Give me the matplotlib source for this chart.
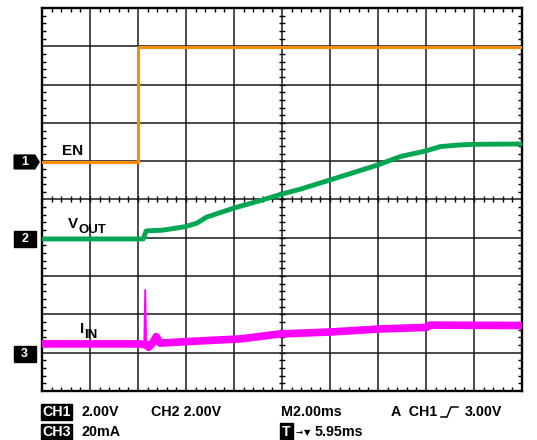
import numpy as np
import matplotlib
matplotlib.use("Agg")
import matplotlib.pyplot as plt
from matplotlib.patches import Polygon
from matplotlib.lines import Line2D

plt.rcParams['font.family'] = ['Liberation Sans', 'DejaVu Sans']
plt.rcParams['font.weight'] = 'bold'

# traces, in screen divisions (10 x 10)
en_x = [0, 2.0, 2.0, 10]
en_y = [5.98, 5.98, 8.98, 8.98]

vout_x = [0, 2.11, 2.17, 2.52, 2.98, 3.22, 3.43, 3.98, 4.60, 4.99, 5.38, 6.0, 6.99, 7.46, 8.0, 8.29, 8.64, 8.98, 10]
vout_y = [3.97, 3.97, 4.18, 4.20, 4.29, 4.38, 4.54, 4.77, 4.99, 5.14, 5.27, 5.51, 5.90, 6.12, 6.27, 6.38, 6.42, 6.44, 6.45]

iin_x = [0, 2.04, 2.12, 2.18, 2.22, 2.30, 2.38, 2.46, 3.01, 4.13, 4.96, 6.0, 7.04, 8.01, 8.08, 10]
iin_y = [1.23, 1.23, 1.21, 1.21, 1.14, 1.25, 1.42, 1.25, 1.29, 1.36, 1.49, 1.54, 1.62, 1.66, 1.72, 1.71]
spike_x = [2.13, 2.15, 2.17]
spike_y = [1.25, 2.64, 1.25]

# channel ground markers (division level)
markers = {'1': 5.98, '2': 3.97, '3': 0.97}

orange = '#FF8C00'
green = '#00A651'
magenta = '#FF00FF'

fig = plt.figure(figsize=(5.37, 4.40), dpi=100)
ax = fig.add_axes([42/537, 49/440, 480/537, 383/440])
ax.set_xlim(0, 10)
ax.set_ylim(0, 10)

ax.set_xticks(np.arange(0, 11, 1))
ax.set_yticks(np.arange(0, 11, 1))
ax.set_xticks(np.arange(0, 10.01, 0.2), minor=True)
ax.set_yticks(np.arange(0, 10.01, 0.2), minor=True)
ax.tick_params(which='major', length=0, labelbottom=False, labelleft=False)
ax.tick_params(which='minor', direction='in', length=3, width=1, color='k',
               top=True, right=True)
ax.grid(which='major', color='#1a1a1a', lw=1.1)
for s in ax.spines.values():
    s.set_linewidth(1.7)

# center cross ticks
cx = np.arange(0, 10.01, 0.2)
ax.plot(cx, np.full_like(cx, 5), ls='none', marker='|', ms=4, mew=1, color='k', zorder=2)
ax.plot(np.full_like(cx, 5), cx, ls='none', marker='_', ms=4, mew=1, color='k', zorder=2)

ax.plot(en_x, en_y, color=orange, lw=2.2, zorder=3)
ax.plot(vout_x, vout_y, color=green, lw=3.5, zorder=3)
ax.plot(iin_x, iin_y, color=magenta, lw=5.5, zorder=3)
ax.plot(spike_x, spike_y, color=magenta, lw=1.3, zorder=3)

# trace labels
ax.text(0.42, 6.16, 'EN', fontsize=11, fontweight='bold', va='baseline')
ax.text(0.54, 4.26, 'V', fontsize=11, fontweight='bold', va='baseline')
ax.text(0.76, 4.12, 'OUT', fontsize=9.5, fontweight='bold', va='baseline')
ax.text(0.80, 1.51, 'I', fontsize=11, fontweight='bold', va='baseline')
ax.text(0.88, 1.38, 'IN', fontsize=9.5, fontweight='bold', va='baseline')

# left channel markers
for name, lvl in markers.items():
    if name == '1':
        pts = [(-0.58, lvl + 0.18), (-0.15, lvl + 0.18), (-0.06, lvl),
               (-0.15, lvl - 0.18), (-0.58, lvl - 0.18)]
    else:
        pts = [(-0.58, lvl + 0.2), (-0.125, lvl + 0.2), (-0.125, lvl - 0.2),
               (-0.58, lvl - 0.2)]
    ax.add_patch(Polygon(pts, closed=True, color='k', clip_on=False))
    ax.text(-0.36, lvl, name, color='white', fontsize=9, fontweight='bold',
            ha='center', va='center', clip_on=False)

# readout text below the screen
def ftext(x, y, s, **kw):
    fig.text(x / 537, 1 - y / 440, s, fontsize=10.3, fontweight='bold', va='center', **kw)

box = dict(boxstyle='square,pad=0.08', fc='k', ec='k')
ftext(42, 412, 'CH1', color='white', bbox=box)
ftext(82, 412, '2.00V')
ftext(151, 412, 'CH2 2.00V')
ftext(281, 412, 'M2.00ms')
ftext(391, 412, 'A  CH1')
ftext(465, 412, '3.00V')
ftext(42, 432, 'CH3', color='white', bbox=box)
ftext(82, 432, '20mA')
ftext(282, 432, 'T', color='white', bbox=dict(boxstyle='square,pad=0.15', fc='k', ec='k'))
fig.text(295 / 537, 1 - 432 / 440, '\u2192', fontsize=6, va='center', family='DejaVu Sans')
fig.text(304 / 537, 1 - 433 / 440, '\u25bc', fontsize=6, va='center', family='DejaVu Sans')
ftext(315, 432, '5.95ms')

# trigger edge symbol
ex = np.array([441, 447, 451, 458]) / 537
ey = 1 - np.array([417, 417, 407, 407]) / 440
fig.add_artist(Line2D(ex, ey, color='k', lw=1.1, transform=fig.transFigure))

fig.savefig('out.png', dpi=100, facecolor='white')
